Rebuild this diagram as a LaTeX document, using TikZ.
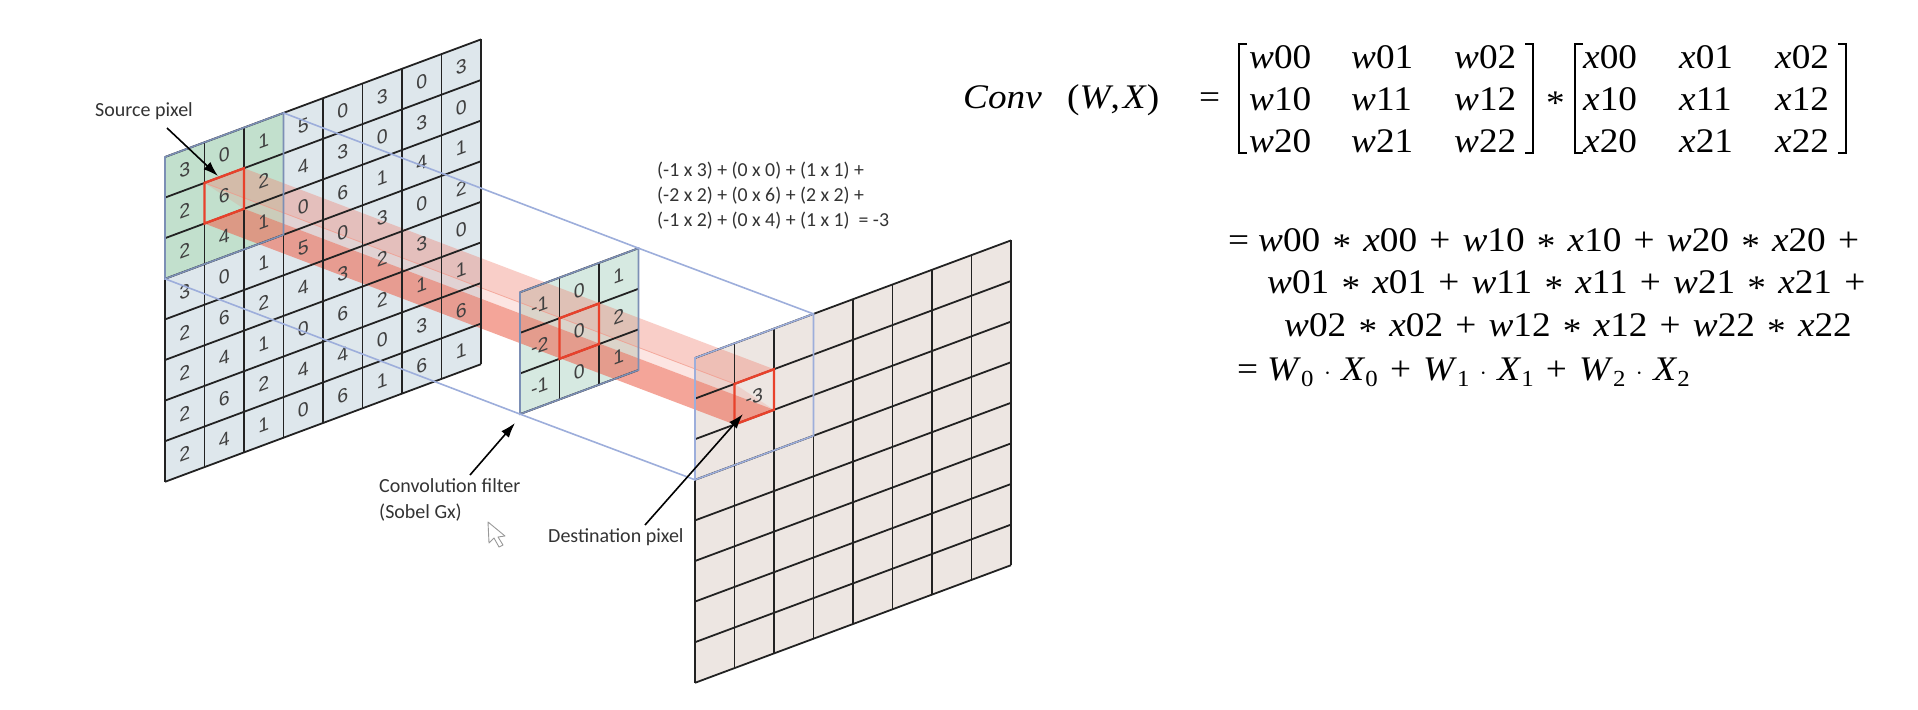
\documentclass[tikz,border=0pt]{standalone}
\usepackage{fontspec}
\setmainfont{Carlito}
\newfontfamily\digitf{Liberation Sans}
\newfontfamily\eqf[FakeStretch=1.08]{Liberation Serif}
\newcommand{\vw}[2]{\textit{#1}#2}
\newcommand{\opr}[1]{\hspace{12.2pt}#1\hspace{12.2pt}}
\newcommand{\oprs}[1]{\hspace{10.5pt}#1\hspace{10.5pt}}
\newcommand{\stt}{\opr{\raisebox{-0.2em}{*}}}
\newcommand{\pls}{\opr{+}}
\newcommand{\dt}{\oprs{\raisebox{0.02em}{$\cdot$}}}
\newcommand{\sbx}[2]{\textit{#1}\raisebox{-0.2em}{\fontsize{23}{23}\selectfont #2}}
\definecolor{srcfill}{HTML}{DEE7EC}
\definecolor{winfill}{HTML}{C2E0CD}
\definecolor{kerfill}{HTML}{D6E9E1}
\definecolor{dstfill}{HTML}{EDE6E2}
\definecolor{gridc}{HTML}{222222}
\definecolor{bluec}{HTML}{9DAEDB}
\definecolor{kerblue}{HTML}{7C8FB5}
\definecolor{redc}{HTML}{E8412B}
\definecolor{beamc}{HTML}{F08070}
\definecolor{beamd}{HTML}{EE6A55}
\definecolor{digitc}{HTML}{404040}
\definecolor{textc}{HTML}{333333}
\usetikzlibrary{arrows.meta}
\tikzset{
  gridline/.style={draw=gridc,line width=1.8pt},
  bluepath/.style={draw=bluec,line width=1.6pt},
  redcell/.style={draw=redc,line width=2.4pt,line join=miter},
  digit/.style={font=\digitf\fontsize{19.5}{19.5}\selectfont,text=digitc,inner sep=0pt,yslant=0.37,transform shape},
  lab/.style={font=\fontsize{20}{26}\selectfont,text=textc,inner sep=0pt,align=left},
  eq/.style={font=\eqf\fontsize{34.5}{34.5}\selectfont,text=black,inner sep=0pt,anchor=base west},
  pointer/.style={draw=black,line width=1.6pt,-{Latex[length=15pt,width=10pt]}},
  bracket/.style={draw=black,line width=1.6pt},
  cell/.style={x={(39.5pt,14.7pt)},y={(0pt,-40.6pt)}}
}
\newcommand{\gridlines}[2]{%
  \foreach \i in {0,...,#1}{\draw[gridline] (\i,0) -- (\i,#2);}
  \foreach \j in {0,...,#2}{\draw[gridline] (0,\j) -- (#1,\j);}
}
\begin{document}
\begin{tikzpicture}[x=1pt,y=-1pt]
\path[use as bounding box,fill=white] (0,0) rectangle (1918,709);

% fills and named corners
\begin{scope}[shift={(165,157)},cell]
  \fill[srcfill] (0,0) -- (8,0) -- (8,8) -- (0,8) -- cycle;
  \fill[winfill] (0,0) -- (3,0) -- (3,3) -- (0,3) -- cycle;
  \coordinate (sTL) at (1,1); \coordinate (sTR) at (2,1);
  \coordinate (sBR) at (2,2); \coordinate (sBL) at (1,2);
  \coordinate (wTR) at (3,0); \coordinate (wBL) at (0,3);
\end{scope}
\begin{scope}[shift={(520,292.3)},cell]
  \fill[kerfill] (0,0) -- (3,0) -- (3,3) -- (0,3) -- cycle;
  \coordinate (kTR) at (3,0); \coordinate (kBL) at (0,3);
\end{scope}
\begin{scope}[shift={(695,358)},cell]
  \fill[dstfill] (0,0) -- (8,0) -- (8,8) -- (0,8) -- cycle;
  \coordinate (dTL) at (1,1); \coordinate (dTR) at (2,1);
  \coordinate (dBR) at (2,2); \coordinate (dBL) at (1,2);
  \coordinate (vTR) at (3,0); \coordinate (vBL) at (0,3);
\end{scope}

% beam
\fill[beamc,fill opacity=0.2] (sTL) -- (sBR) -- (dBR) -- (dTL) -- cycle;
\fill[beamc,fill opacity=0.38] (sTL) -- (sTR) -- (dTR) -- (dTL) -- cycle;
\fill[beamd,fill opacity=0.6] (sBL) -- (sBR) -- (dBR) -- (dBL) -- cycle;
\draw[beamd!70!white,line width=0.8pt,opacity=0.7] (sTL) -- (dTL);

% grids
\begin{scope}[shift={(165,157)},cell]
  \gridlines{8}{8}
  \foreach \c/\col in {0/{3,2,2,3,2,2,2,2},1/{0,6,4,0,6,4,6,4},2/{1,2,1,1,2,1,2,1},3/{5,4,0,5,4,0,4,0},4/{0,3,6,0,3,6,4,6},5/{3,0,1,3,2,2,0,1},6/{0,3,4,0,3,1,3,6},7/{3,0,1,2,0,1,6,1}}{
    \foreach \v [count=\r from 0] in \col {
      \node[digit] (s\c-\r) at (\c+0.5,\r+0.5) {\v};
    }
  }
  \draw[redcell] (1,1) -- (2,1) -- (2,2) -- (1,2) -- cycle;
  \draw[bluepath,draw=kerblue] (0,0) -- (3,0) -- (3,3) -- (0,3) -- cycle;
\end{scope}
\begin{scope}[shift={(520,292.3)},cell]
  \gridlines{3}{3}
  \foreach \c/\col in {0/{-1,-2,-1},1/{0,0,0},2/{1,2,1}}{
    \foreach \v [count=\r from 0] in \col {
      \node[digit] (k\c-\r) at (\c+0.5,\r+0.5) {\v};
    }
  }
  \draw[bluepath,draw=kerblue] (0,0) -- (3,0) -- (3,3) -- (0,3) -- cycle;
  \draw[redcell] (1,1) -- (2,1) -- (2,2) -- (1,2) -- cycle;
\end{scope}
\begin{scope}[shift={(695,358)},cell]
  \gridlines{8}{8}
  \node[digit] (d1-1) at (1.5,1.5) {-3};
  \draw[bluepath] (0,0) -- (3,0) -- (3,3) -- (0,3) -- cycle;
  \draw[redcell] (1,1) -- (2,1) -- (2,2) -- (1,2) -- cycle;
\end{scope}

% window connectors
\draw[bluepath] (wTR) -- (kTR) -- (vTR);
\draw[bluepath] (wBL) -- (kBL) -- (vBL);

% labels and pointers
\node[lab,anchor=west] (srcl) at (95,111) {Source pixel};
\coordinate (srct) at (218,176);
\coordinate (srcf) at (167,128);
\draw[pointer] (srcf) -- (srct);

\node[lab,anchor=west] (conv) at (379,500) {Convolution filter\\(Sobel Gx)};
\coordinate (convt) at (515,423);
\coordinate (convf) at (470,475);
\draw[pointer] (convf) -- (convt);

\node[lab,anchor=west] (dest) at (548,537) {Destination pixel};
\coordinate (destt) at (743,414);
\coordinate (destf) at (645,525);
\draw[pointer] (destf) -- (destt);

\node[lab,anchor=west,font=\fontsize{19.8}{25.3}\selectfont] (calc) at (657,195.7) {(-1 x 3) + (0 x 0) + (1 x 1) +\\(-2 x 2) + (0 x 6) + (2 x 2) +\\(-1 x 2) + (0 x 4) + (1 x 1) \ = -3};

% cursor
\draw[draw=gray!80,fill=white,line width=0.9pt,line join=round] (488,522) -- (489,543) -- (494,538) -- (499,547) -- (503,545) -- (498,537) -- (505,536) -- cycle;

% matrix equation
\node[eq] (conv1) at (963,108) {\textit{Conv}};
\node[eq] (conv2) at (1067,108) {(\textit{W},\hspace{3pt}\textit{X})};
\node[eq] (eq1) at (1199,108) {=};
\foreach \n/\x/\y/\a/\b in {a/1249/68/w/00,b/1351/68/w/01,c/1454/68/w/02,d/1249/110/w/10,e/1351/110/w/11,f/1454/110/w/12,g/1249/152/w/20,h/1351/152/w/21,i/1454/152/w/22,
 j/1583/68/x/00,k/1679/68/x/01,l/1775/68/x/02,m/1583/110/x/10,n/1679/110/x/11,o/1775/110/x/12,p/1583/152/x/20,q/1679/152/x/21,r/1775/152/x/22}{
  \node[eq] (m\n) at (\x,\y) {\vw{\a}{\b}};
}
\node[eq] (star) at (1546,108) {\raisebox{-0.2em}{*}};
\draw[bracket] (1247,44) -- (1239,44) -- (1239,153) -- (1247,153);
\draw[bracket] (1525,44) -- (1533,44) -- (1533,153) -- (1525,153);
\draw[bracket] (1583,44) -- (1575,44) -- (1575,153) -- (1583,153);
\draw[bracket] (1838,44) -- (1846,44) -- (1846,153) -- (1838,153);

% expanded lines
\node[eq] (l1) at (1228,251) {=\hspace{9pt}\vw{w}{00}\stt\vw{x}{00}\pls\vw{w}{10}\stt\vw{x}{10}\pls\vw{w}{20}\stt\vw{x}{20}\pls};
\node[eq] (l2) at (1267,293) {\vw{w}{01}\stt\vw{x}{01}\pls\vw{w}{11}\stt\vw{x}{11}\pls\vw{w}{21}\stt\vw{x}{21}\pls};
\node[eq] (l3) at (1284,336) {\vw{w}{02}\stt\vw{x}{02}\pls\vw{w}{12}\stt\vw{x}{12}\pls\vw{w}{22}\stt\vw{x}{22}};
\node[eq] (l4) at (1237,380) {=\hspace{9pt}\sbx{W}{0}\dt\sbx{X}{0}\pls\sbx{W}{1}\dt\sbx{X}{1}\pls\sbx{W}{2}\dt\sbx{X}{2}};
\end{tikzpicture}
\end{document}
